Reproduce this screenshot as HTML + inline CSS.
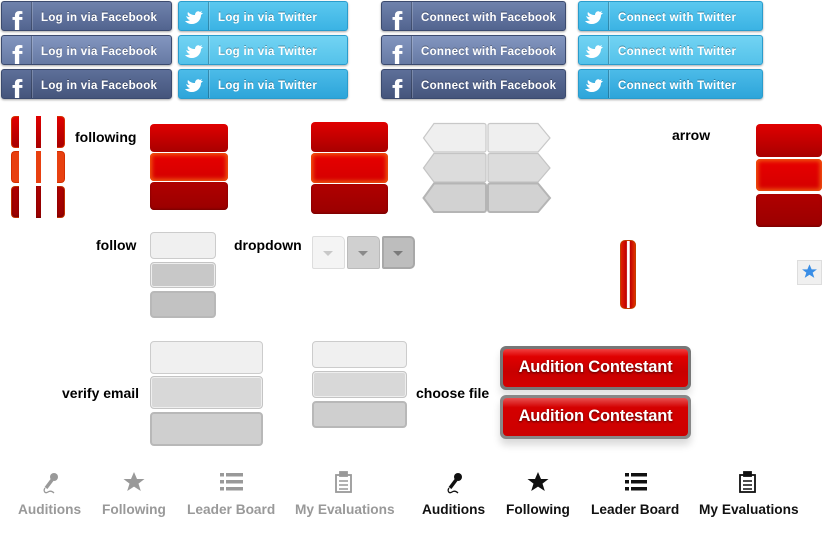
<!DOCTYPE html>
<html><head><meta charset="utf-8"><style>
*{margin:0;padding:0;box-sizing:border-box}
body{width:822px;height:539px;background:#fff;position:relative;overflow:hidden;font-family:"Liberation Sans",sans-serif}
.a{position:absolute}
.btn{position:absolute;height:30px;border-radius:3px;color:#fff;font-weight:bold;font-size:11.5px;letter-spacing:.3px;line-height:30px;box-shadow:0 1px 2px rgba(0,0,0,.35);overflow:hidden;text-shadow:0 -1px 0 rgba(0,0,0,.3)}
.fb{border:1px solid #3b4a6e}
.fb1{background:linear-gradient(#6f82ac,#52648f)}
.fb2{background:linear-gradient(#8396bf,#667aa4)}
.fb3{background:linear-gradient(#5d6f99,#45557c)}
.tw{border:1px solid #2a9ccc}
.tw1{background:linear-gradient(#5bc8ef,#3bb3e4)}
.tw2{background:linear-gradient(#72d3f3,#54c2ea)}
.tw3{background:linear-gradient(#4cbbe8,#2da5da)}
.ic{position:absolute;left:0;top:0;width:30px;height:28px;border-right:1px solid rgba(0,0,0,.25);box-shadow:1px 0 0 rgba(255,255,255,.2);overflow:hidden}
.f{position:absolute;left:10px;top:6px;font-size:31px;font-weight:bold;line-height:30px;font-family:"Liberation Sans",sans-serif;color:#fff;text-shadow:none}
.t{position:absolute;left:39px;top:1px}
.red{position:absolute;border-radius:4px}
.r1{background:linear-gradient(#e00000,#a80000)}
.r2{background:linear-gradient(#e80000,#d40000);box-shadow:inset 0 0 4px 2px #f05a10}
.r3{background:linear-gradient(#b00000,#9a0000);box-shadow:inset 0 -1px 2px #700}
.g{position:absolute;border-radius:4px;border:1px solid #ccc}
.g1{background:#f0f0f0}
.g2{background:#d8d8d8;border-color:#c4c4c4;box-shadow:inset 0 0 0 1px #eee}
.g3{background:#cfcfcf;border:2px solid #b8b8b8}
.lbl{position:absolute;font-weight:bold;font-size:14px;color:#000}
.tab{position:absolute;top:502px;font-size:13.7px;font-weight:bold}
</style></head><body>

<div class="btn fb fb1" style="left:1px;top:1px;width:171px"><div class="ic"><span class="f">f</span></div><span class="t">Log in via Facebook</span></div>
<div class="btn fb fb2" style="left:1px;top:35px;width:171px"><div class="ic"><span class="f">f</span></div><span class="t">Log in via Facebook</span></div>
<div class="btn fb fb3" style="left:1px;top:69px;width:171px"><div class="ic"><span class="f">f</span></div><span class="t">Log in via Facebook</span></div>

<div class="btn tw tw1" style="left:178px;top:1px;width:170px"><div class="ic"><svg class="a" style="left:6px;top:6px" width="18" height="16" viewBox="0 0 18 16"><path d="M1 8c2 1 3 1 4 1-2-1-3-3-2-5 2 2 4 3 7 3 0-3 3-5 5-3l2-1-1 2 2 0-2 2c0 5-4 9-9 9-3 0-5-1-7-3 2 0 4 0 5-1-2 0-3-2-4-4z" fill="#fff"/></svg></div><span class="t">Log in via Twitter</span></div>
<div class="btn tw tw2" style="left:178px;top:35px;width:170px"><div class="ic"><svg class="a" style="left:6px;top:6px" width="18" height="16" viewBox="0 0 18 16"><path d="M1 8c2 1 3 1 4 1-2-1-3-3-2-5 2 2 4 3 7 3 0-3 3-5 5-3l2-1-1 2 2 0-2 2c0 5-4 9-9 9-3 0-5-1-7-3 2 0 4 0 5-1-2 0-3-2-4-4z" fill="#fff"/></svg></div><span class="t">Log in via Twitter</span></div>
<div class="btn tw tw3" style="left:178px;top:69px;width:170px"><div class="ic"><svg class="a" style="left:6px;top:6px" width="18" height="16" viewBox="0 0 18 16"><path d="M1 8c2 1 3 1 4 1-2-1-3-3-2-5 2 2 4 3 7 3 0-3 3-5 5-3l2-1-1 2 2 0-2 2c0 5-4 9-9 9-3 0-5-1-7-3 2 0 4 0 5-1-2 0-3-2-4-4z" fill="#fff"/></svg></div><span class="t">Log in via Twitter</span></div>

<div class="btn fb fb1" style="left:381px;top:1px;width:185px"><div class="ic"><span class="f">f</span></div><span class="t">Connect with Facebook</span></div>
<div class="btn fb fb2" style="left:381px;top:35px;width:185px"><div class="ic"><span class="f">f</span></div><span class="t">Connect with Facebook</span></div>
<div class="btn fb fb3" style="left:381px;top:69px;width:185px"><div class="ic"><span class="f">f</span></div><span class="t">Connect with Facebook</span></div>

<div class="btn tw tw1" style="left:578px;top:1px;width:185px"><div class="ic"><svg class="a" style="left:6px;top:6px" width="18" height="16" viewBox="0 0 18 16"><path d="M1 8c2 1 3 1 4 1-2-1-3-3-2-5 2 2 4 3 7 3 0-3 3-5 5-3l2-1-1 2 2 0-2 2c0 5-4 9-9 9-3 0-5-1-7-3 2 0 4 0 5-1-2 0-3-2-4-4z" fill="#fff"/></svg></div><span class="t">Connect with Twitter</span></div>
<div class="btn tw tw2" style="left:578px;top:35px;width:185px"><div class="ic"><svg class="a" style="left:6px;top:6px" width="18" height="16" viewBox="0 0 18 16"><path d="M1 8c2 1 3 1 4 1-2-1-3-3-2-5 2 2 4 3 7 3 0-3 3-5 5-3l2-1-1 2 2 0-2 2c0 5-4 9-9 9-3 0-5-1-7-3 2 0 4 0 5-1-2 0-3-2-4-4z" fill="#fff"/></svg></div><span class="t">Connect with Twitter</span></div>
<div class="btn tw tw3" style="left:578px;top:69px;width:185px"><div class="ic"><svg class="a" style="left:6px;top:6px" width="18" height="16" viewBox="0 0 18 16"><path d="M1 8c2 1 3 1 4 1-2-1-3-3-2-5 2 2 4 3 7 3 0-3 3-5 5-3l2-1-1 2 2 0-2 2c0 5-4 9-9 9-3 0-5-1-7-3 2 0 4 0 5-1-2 0-3-2-4-4z" fill="#fff"/></svg></div><span class="t">Connect with Twitter</span></div>

<div class="red r1" style="left:11px;top:116px;width:8px;height:32px;border-radius:4px 0 0 4px;border:1px solid #d43000;border-right:0"></div>
<div class="a r1" style="left:36px;top:116px;width:5px;height:32px"></div>
<div class="red r1" style="left:57px;top:116px;width:8px;height:32px;border-radius:0 4px 4px 0;border:1px solid #d43000;border-left:0"></div>
<div class="red" style="left:11px;top:151px;width:8px;height:32px;border-radius:4px 0 0 4px;background:#e84010;border:1px solid #d43000;border-right:0"></div>
<div class="a" style="left:36px;top:151px;width:5px;height:32px;background:#e84010"></div>
<div class="red" style="left:57px;top:151px;width:8px;height:32px;border-radius:0 4px 4px 0;background:#e84010;border:1px solid #d43000;border-left:0"></div>
<div class="red r3" style="left:11px;top:186px;width:8px;height:32px;border-radius:4px 0 0 4px;border:1px solid #c03000;border-right:0"></div>
<div class="a r3" style="left:36px;top:186px;width:5px;height:32px"></div>
<div class="red r3" style="left:57px;top:186px;width:8px;height:32px;border-radius:0 4px 4px 0;border:1px solid #c03000;border-left:0"></div>

<div class="lbl" style="left:75px;top:129px">following</div>

<div class="red r1" style="left:150px;top:124px;width:78px;height:28px"></div>
<div class="red r2" style="left:150px;top:153px;width:78px;height:28px"></div>
<div class="red r3" style="left:150px;top:182px;width:78px;height:28px"></div>

<div class="red r1" style="left:311px;top:122px;width:77px;height:30px"></div>
<div class="red r2" style="left:311px;top:153px;width:77px;height:30px"></div>
<div class="red r3" style="left:311px;top:184px;width:77px;height:30px"></div>

<svg class="a" style="left:420px;top:120px" width="135" height="96">
<g stroke-width="1.2">
<path d="M14 3.5H64a2 2 0 0 1 2 2V30a2 2 0 0 1-2 2H14L3.5 18Z" fill="#efefef" stroke="#c8c8c8"/>
<path d="M70 3.5H118L130 18L118 32H70a2 2 0 0 1-2-2V5.5a2 2 0 0 1 2-2Z" fill="#efefef" stroke="#c8c8c8"/>
<path d="M14 33.5H64a2 2 0 0 1 2 2V60a2 2 0 0 1-2 2H14L3.5 48Z" fill="#dcdcdc" stroke="#c4c4c4"/>
<path d="M70 33.5H118L130 48L118 62H70a2 2 0 0 1-2-2V35.5a2 2 0 0 1 2-2Z" fill="#dcdcdc" stroke="#c4c4c4"/>
<path d="M14 63.5H64a2 2 0 0 1 2 2V90a2 2 0 0 1-2 2H14L3.5 78Z" fill="#d2d2d2" stroke="#b5b5b5" stroke-width="2"/>
<path d="M70 63.5H118L130 78L118 92H70a2 2 0 0 1-2-2V65.5a2 2 0 0 1 2-2Z" fill="#d2d2d2" stroke="#b5b5b5" stroke-width="2"/>
</g></svg>

<div class="lbl" style="left:672px;top:127px">arrow</div>
<div class="red r1" style="left:756px;top:124px;width:66px;height:33px"></div>
<div class="red r2" style="left:756px;top:159px;width:66px;height:32px"></div>
<div class="red r3" style="left:756px;top:194px;width:66px;height:33px"></div>

<div class="lbl" style="left:96px;top:237px">follow</div>
<div class="g g1" style="left:150px;top:232px;width:66px;height:27px"></div>
<div class="g g2" style="left:150px;top:262px;width:66px;height:26px;background:#c8c8c8"></div>
<div class="g g3" style="left:150px;top:291px;width:66px;height:27px;background:#c2c2c2"></div>

<div class="lbl" style="left:234px;top:237px">dropdown</div>
<div class="g" style="left:312px;top:236px;width:33px;height:33px;background:#f4f4f4;border-color:#ddd;border-radius:2px 5px 2px 2px"></div>
<div class="g" style="left:347px;top:236px;width:33px;height:33px;background:#d0d0d0;border-color:#bbb;border-radius:2px 5px 2px 2px"></div>
<div class="g" style="left:382px;top:236px;width:33px;height:33px;background:#bdbdbd;border:2px solid #a8a8a8;border-radius:2px 5px 5px 2px"></div>
<svg class="a" style="left:312px;top:236px" width="104" height="33"><path d="M11 15h10l-5 5z" fill="#c8c8c8"/><path d="M46 15h10l-5 5z" fill="#8a8a8a"/><path d="M81 15h10l-5 5z" fill="#7a7a7a"/></svg>

<div class="red" style="left:620px;top:240px;width:16px;height:69px;border-radius:5px;background:linear-gradient(90deg,#e02000,#c00000 40%,#fff 45%,#fff 60%,#c00000 65%,#e03000);border:1px solid #c04000"></div>

<div class="a" style="left:797px;top:260px;width:25px;height:25px;background:#f0f0f0;border:1px solid #ddd"></div>
<svg class="a" style="left:801px;top:263px" width="17" height="17" viewBox="0 0 24 24"><path d="M12 2l3 7h7.5l-6 4.6 2.3 7.4L12 16.6 5.2 21l2.3-7.4L1.5 9H9z" fill="#3a8ee6"/></svg>

<div class="lbl" style="left:62px;top:385px">verify email</div>
<div class="g g1" style="left:150px;top:341px;width:113px;height:33px"></div>
<div class="g g2" style="left:150px;top:376px;width:113px;height:33px"></div>
<div class="g g3" style="left:150px;top:412px;width:113px;height:34px"></div>

<div class="g g1" style="left:312px;top:341px;width:95px;height:27px"></div>
<div class="g g2" style="left:312px;top:371px;width:95px;height:27px"></div>
<div class="g g3" style="left:312px;top:401px;width:95px;height:27px"></div>
<div class="lbl" style="left:416px;top:385px">choose file</div>

<div class="a" style="left:500px;top:346px;width:191px;height:44px;border-radius:6px;background:#777;padding:3px;box-shadow:0 6px 8px rgba(0,0,0,.12)">
<div style="height:100%;border-radius:4px;background:linear-gradient(#f04040,#e00000 20%,#c80000 60%,#d40000);color:#fff;font-weight:bold;font-size:16.5px;text-align:center;line-height:36px;text-shadow:0 1px 2px rgba(0,0,0,.6);letter-spacing:-.2px">Audition Contestant</div></div>
<div class="a" style="left:500px;top:395px;width:191px;height:44px;border-radius:6px;background:#888;padding:3px;box-shadow:0 6px 8px rgba(0,0,0,.15)">
<div style="height:100%;border-radius:4px;background:linear-gradient(#e85050,#d40000 25%,#cc0000);color:#fff;font-weight:bold;font-size:16.5px;text-align:center;line-height:36px;text-shadow:0 1px 2px rgba(0,0,0,.6);letter-spacing:-.2px">Audition Contestant</div></div>

<svg class="a" style="left:0;top:468px" width="822" height="32">
<g fill="#999" stroke="#999">
<g transform="translate(50,5)"><circle cx="4" cy="4" r="4" stroke="none"/><path d="M2 7L-4 15" stroke-width="3.5" fill="none"/><path d="M-5 15c-2 3 0 6 3 4s5 0 6 1" stroke-width="1.3" fill="none"/></g>
<path d="M134 4l3 7h7.5l-6 4.6 2.3 7.4L134 18.6 127.2 23l2.3-7.4L123.5 11H131z" stroke="none"/>
<g stroke="none"><rect x="220" y="5" width="4" height="3.5"/><rect x="226" y="5" width="17" height="3.5"/><rect x="220" y="12" width="4" height="3.5"/><rect x="226" y="12" width="17" height="3.5"/><rect x="220" y="19" width="4" height="3.5"/><rect x="226" y="19" width="17" height="3.5"/></g>
<g fill="none" stroke-width="1.8"><rect x="336" y="7" width="15" height="17"/><rect x="340" y="4" width="7" height="4" fill="#999"/><path d="M339 13h9M339 17h9M339 21h9" stroke-width="1.5"/></g>
</g>
<g fill="#111" stroke="#111">
<g transform="translate(454,5)"><circle cx="4" cy="4" r="4" stroke="none"/><path d="M2 7L-4 15" stroke-width="3.5" fill="none"/><path d="M-5 15c-2 3 0 6 3 4s5 0 6 1" stroke-width="1.3" fill="none"/></g>
<path d="M538 4l3 7h7.5l-6 4.6 2.3 7.4L538 18.6 531.2 23l2.3-7.4L527.5 11H535z" stroke="none"/>
<g stroke="none"><rect x="625" y="5" width="4" height="3.5"/><rect x="631" y="5" width="16" height="3.5"/><rect x="625" y="12" width="4" height="3.5"/><rect x="631" y="12" width="16" height="3.5"/><rect x="625" y="19" width="4" height="3.5"/><rect x="631" y="19" width="16" height="3.5"/></g>
<g fill="none" stroke-width="1.8"><rect x="740" y="7" width="15" height="17"/><rect x="744" y="4" width="7" height="4" fill="#111"/><path d="M743 13h9M743 17h9M743 21h9" stroke-width="1.5"/></g>
</g>
</svg>

<div class="tab" style="left:18px;color:#999">Auditions</div>
<div class="tab" style="left:102px;color:#999">Following</div>
<div class="tab" style="left:187px;color:#999">Leader Board</div>
<div class="tab" style="left:295px;color:#999">My Evaluations</div>
<div class="tab" style="left:422px;color:#111">Auditions</div>
<div class="tab" style="left:506px;color:#111">Following</div>
<div class="tab" style="left:591px;color:#111">Leader Board</div>
<div class="tab" style="left:699px;color:#111">My Evaluations</div>
</body></html>
